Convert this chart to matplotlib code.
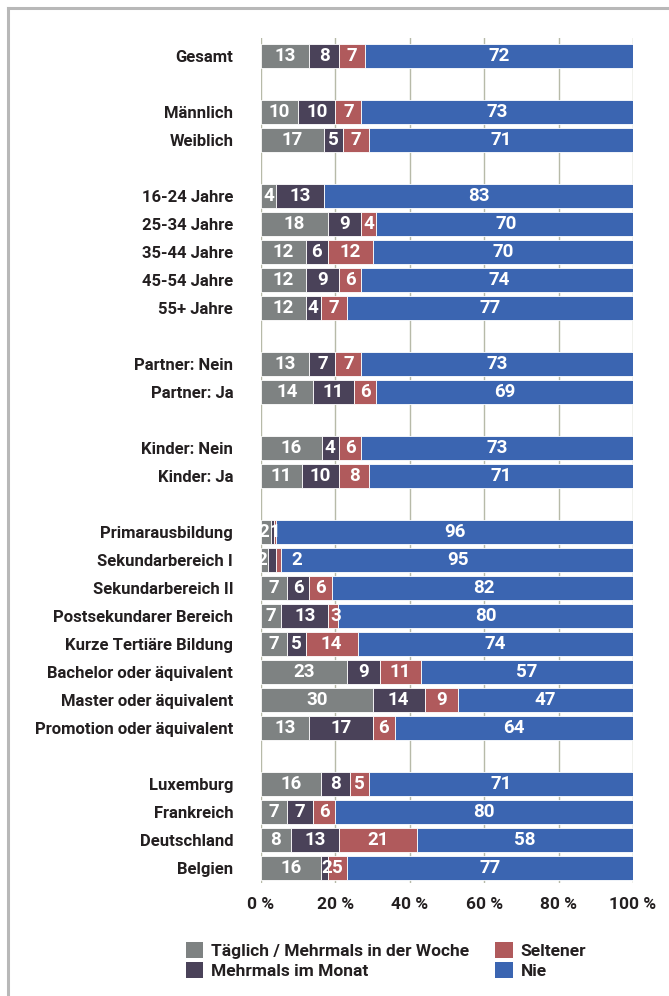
import matplotlib
matplotlib.use("Agg")
import matplotlib.pyplot as plt
from matplotlib.patches import Patch
from matplotlib.lines import Line2D

plt.rcParams['font.family'] = ['Roboto', 'DejaVu Sans']
plt.rcParams['font.stretch'] = 'condensed'
plt.rcParams['font.weight'] = 'bold'

# ── Daten ─────────────────────────────────────────────────
# None = Leerzeile zwischen den Gruppen
kategorien = ['Gesamt', None,
              'Männlich', 'Weiblich', None,
              '16-24 Jahre', '25-34 Jahre', '35-44 Jahre', '45-54 Jahre', '55+ Jahre', None,
              'Partner: Nein', 'Partner: Ja', None,
              'Kinder: Nein', 'Kinder: Ja', None,
              'Primarausbildung', 'Sekundarbereich I', 'Sekundarbereich II',
              'Postsekundarer Bereich', 'Kurze Tertiäre Bildung',
              'Bachelor oder äquivalent', 'Master oder äquivalent',
              'Promotion oder äquivalent', None,
              'Luxemburg', 'Frankreich', 'Deutschland', 'Belgien']

taeglich = [13, None, 10, 17, None, 4, 18, 12, 12, 12, None, 13, 14, None, 16.3, 11, None,
            2.6, 1.8, 7, 5.4, 7, 23, 30, 13, None, 16, 7, 8, 16]
monat    = [8, None, 10, 5, None, 13, 9, 6, 9, 4, None, 7, 11, None, 4.6, 10, None,
            1, 2.2, 6, 12.7, 5, 9, 14, 17, None, 8, 7, 13, 2]
seltener = [7, None, 7, 7, None, 0, 4, 12, 6, 7, None, 7, 6, None, 6.1, 8, None,
            0.4, 1.5, 6, 2.7, 14, 11, 9, 6, None, 5, 6, 21, 5]
nie      = [72, None, 73, 71, None, 83, 70, 70, 74, 77, None, 73, 69, None, 73, 71, None,
            96, 95, 82, 79.2, 74, 57, 47, 64, None, 71, 80, 58, 77]

# Beschriftungen (wie im Original, teils leer)
lab_taeglich = ['13', '', '10', '17', '', '4', '18', '12', '12', '12', '', '13', '14', '', '16', '11', '',
                '2', '2', '7', '7', '7', '23', '30', '13', '', '16', '7', '8', '16']
lab_monat    = ['8', '', '10', '5', '', '13', '9', '6', '9', '4', '', '7', '11', '', '4', '10', '',
                '1', '', '6', '13', '5', '9', '14', '17', '', '8', '7', '13', '2']
lab_seltener = ['7', '', '7', '7', '', '', '4', '12', '6', '7', '', '7', '6', '', '6', '8', '',
                '', '', '6', '3', '14', '11', '9', '6', '', '5', '6', '21', '5']
lab_nie      = ['72', '', '73', '71', '', '83', '70', '70', '74', '77', '', '73', '69', '', '73', '71', '',
                '96', '95', '82', '80', '74', '57', '47', '64', '', '71', '80', '58', '77']

# Sonderfall Sekundarbereich I: Label "2" steht im Original frei im blauen Balken
extra_label = ('Sekundarbereich I', 9.7, '2')

serien = ['Täglich / Mehrmals in der Woche', 'Mehrmals im Monat', 'Seltener', 'Nie']
farben = ['#7e8282', '#4a4259', '#b05a5c', '#3b65b1']
textfarbe = '#231f20'

# ── Grafik ────────────────────────────────────────────────
fig = plt.figure(figsize=(6.69, 9.96), dpi=100)
ax = fig.add_axes([261 / 669, 1 - 883 / 996, 372 / 669, 845 / 996])

for x in range(0, 101, 20):
    ax.axvline(x, color='#b7baa8', linewidth=1.0, zorder=0)

werte = [taeglich, monat, seltener, nie]
labels = [lab_taeglich, lab_monat, lab_seltener, lab_nie]
for i, kat in enumerate(kategorien):
    if kat is None:
        continue
    links = 0
    for s in range(4):
        w = werte[s][i]
        ax.barh(i, w, left=links, height=0.88, color=farben[s],
                edgecolor='white', linewidth=0.6, zorder=2)
        if labels[s][i]:
            # sehr schmale Segmente: Label wie im Original leicht nach außen
            xl = links + w / 2
            if w < 3:
                xl += -0.6 if s == 0 else 0.6
            ax.text(xl, i, labels[s][i], ha='center', va='center',
                    color='white', fontsize=13.5, fontweight='bold', zorder=3)
        links += w
    if kat == extra_label[0]:
        ax.text(extra_label[1], i, extra_label[2], ha='center', va='center',
                color='white', fontsize=13.5, fontweight='bold', zorder=3)

pos = [i for i, k in enumerate(kategorien) if k is not None]
ax.set_yticks(pos)
ax.set_yticklabels([kategorien[i] for i in pos], fontsize=12, fontweight='bold',
                   color=textfarbe)
ax.set_xticks(range(0, 101, 20))
ax.set_xticklabels([f'{x} %' for x in range(0, 101, 20)], fontsize=12.5,
                   fontweight='bold', color=textfarbe)
ax.tick_params(axis='y', length=0, pad=20)
ax.tick_params(axis='x', length=0, pad=10)
ax.set_xlim(0, 100)
ax.set_ylim(29.54, -0.64)
for sp in ax.spines.values():
    sp.set_visible(False)

# Legende
handles = [Patch(facecolor=f, edgecolor='none') for f in farben]
fig.legend(handles, serien, loc='upper left', ncol=2,
           bbox_to_anchor=(186 / 669, 1 - 942 / 996), frameon=False,
           prop={'size': 12.5, 'weight': 'bold'}, labelcolor=textfarbe,
           handlelength=1.0, handleheight=1.0,
           handletextpad=0.45, columnspacing=1.5, labelspacing=0.2,
           borderpad=0, borderaxespad=0)

# Rahmen oben und links
fig.add_artist(Line2D([8 / 669, 1], [1 - 8.5 / 996] * 2, color='#b8b8b8',
                      linewidth=2.2, transform=fig.transFigure))
fig.add_artist(Line2D([8 / 669] * 2, [0, 1 - 8.5 / 996], color='#b8b8b8',
                      linewidth=2.2, transform=fig.transFigure))

fig.savefig('out.png', dpi=100)
